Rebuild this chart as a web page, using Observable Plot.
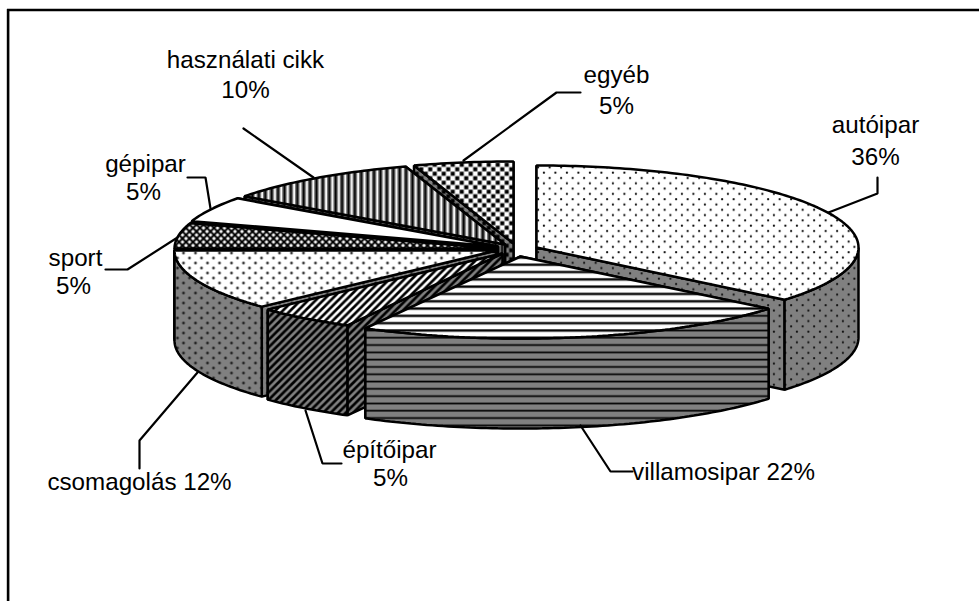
<!DOCTYPE html>
<html>
<head>
<meta charset="utf-8">
<style>html,body{margin:0;padding:0;background:#fff}svg{display:block}</style>
<script src="https://cdn.jsdelivr.net/npm/d3@7"></script>
<script src="https://cdn.jsdelivr.net/npm/@observablehq/plot@0.6"></script>
</head>
<body>
<div id="chart"></div>
<script>
const categories = ["autóipar","villamosipar","építőipar","csomagolás","sport","gépipar","használati cikk","egyéb"];
const shares = [36,22,5,12,5,5,10,5];
const patternNames = ["dotsA","hlines","diag","dotsB","cross","plain","vlines","checker"];
// exploded apex of each slice in picture coordinates
const apexX = [536,520,502,496,496,497.5,504.5,513];
const apexY = [247,256,253,250,248,246,244,243];
const radiusX = 322, radiusY = 82, depth = 90;

const labelTexts = ["autóipar","36%","villamosipar 22%","építőipar","5%","csomagolás 12%","sport","5%","gépipar","5%","használati cikk","10%","egyéb","5%"];
const labelX = [875,875,723,389,390,139,75,73,145,143,245,245,616,616];
const labelY = [125,157,472,450,478,482,258,286,164,192,60,90,75,106];

const leaderId = [0,0,0,1,1,1,2,2,2,3,3,3,4,4,4,5,5,5,6,6,7,7,7];
const leaderX = [828,877,877,580,610,632,305,322,341,197,139,139,177,127,105,210,205,187,313,243,463,556,580];
const leaderY = [212,193,177,425,471,471,410,463,463,372,440,468,237,269,269,208,177,177,177,128,160,92,92];

const tile = {
  dotsA: {w:11.5,h:10.6,draw:(p)=>{[[2.9,2.65],[8.65,7.95]].forEach(c=>p.append("circle").attr("cx",c[0]).attr("cy",c[1]).attr("r",1.1).attr("fill","#111"))}},
  dotsB: {w:12,h:10,draw:(p)=>{[[3,2.5],[9,7.5]].forEach(c=>p.append("circle").attr("cx",c[0]).attr("cy",c[1]).attr("r",1.35).attr("fill","#111"))}},
  hlines:{w:8,h:7.3,draw:(p)=>{p.append("rect").attr("y",0).attr("width",8).attr("height",3).attr("fill","#808080");p.append("rect").attr("y",0.6).attr("width",8).attr("height",1.7).attr("fill","#000")}},
  vlines:{w:6.4,h:8,draw:(p)=>{p.append("rect").attr("x",0).attr("width",4.8).attr("height",8).attr("fill","#808080");p.append("rect").attr("x",1.4).attr("width",1.9).attr("height",8).attr("fill","#000")}},
  diag:  {w:7.5,h:7.5,draw:(p)=>{p.append("path").attr("d","M-2,2 L2,-2 M-2,9.5 L9.5,-2 M5.5,9.5 L9.5,5.5").attr("stroke","#000").attr("stroke-width",2.7).attr("fill","none")}},
  cross: {w:7,h:7,draw:(p)=>{p.append("path").attr("d","M0,0 L7,7 M7,0 L0,7").attr("stroke","#000").attr("stroke-width",2).attr("fill","none")}},
  checker:{w:9,h:9,draw:(p)=>{[[0.2,0.2],[4.7,4.7]].forEach(c=>p.append("rect").attr("x",c[0]).attr("y",c[1]).attr("width",4.1).attr("height",4.1).attr("fill","#000"))}},
  plain: {w:8,h:8,draw:()=>{}}
};

function defsMark(){
  const svg = d3.create("svg:g");
  const defs = svg.append("defs");
  for (const name of Object.keys(tile)) for (const [suffix,bg] of [["T","#fff"],["W","#808080"]]) {
    const t = tile[name];
    const p = defs.append("pattern").attr("id",name+suffix).attr("patternUnits","userSpaceOnUse").attr("width",t.w).attr("height",t.h);
    p.append("rect").attr("width",t.w).attr("height",t.h).attr("fill",bg);
    t.draw(p);
  }
  return svg.node();
}

const toRad = d => d*Math.PI/180;
function rim(i,a,dz=0){ return {x:apexX[i]+radiusX*Math.sin(toRad(a)), y:apexY[i]-radiusY*Math.cos(toRad(a))+dz}; }
function arc(i,a0,a1,dz=0){
  const pts=[]; const n=Math.max(2,Math.ceil(Math.abs(a1-a0)));
  for(let k=0;k<=n;k++) pts.push(rim(i,a0+(a1-a0)*k/n,dz));
  return pts;
}
const polyStyle = (fill)=>({x:"x",y:"y",fill,stroke:"#000",strokeWidth:2.5,curve:"linear-closed",strokeLinejoin:"miter"});
const poly = (pts,fill)=>Plot.line(pts,polyStyle(fill));

const total = d3.sum(shares);
const starts = d3.cumsum([0,...shares]).map(v=>v/total*360);
const drawOrder = [7,0,6,5,4,3,2,1];
const sliceMarks = [];
for (const i of drawOrder){
  const a0=starts[i], a1=starts[i+1], nm=patternNames[i];
  const ax=apexX[i], ay=apexY[i];
  const wall=`url(#${nm}W)`, top=`url(#${nm}T)`;
  // cut walls, the one nearer the viewer last
  const cuts=[a0,a1].sort((p,q)=>rim(i,p).y-rim(i,q).y);
  for (const a of cuts){
    const r=rim(i,a), b=rim(i,a,depth);
    sliceMarks.push(poly([{x:ax,y:ay},r,b,{x:ax,y:ay+depth}],wall));
  }
  // outer wall on the front half
  const f0=Math.max(a0,90), f1=Math.min(a1,270);
  if (f1>f0) sliceMarks.push(poly([...arc(i,f0,f1),...arc(i,f1,f0,depth)],wall));
  // top
  sliceMarks.push(poly([{x:ax,y:ay},...arc(i,a0,a1)],top));
}

const leaders = leaderX.map((x,k)=>({x,y:leaderY[k],id:leaderId[k]}));
const labels = labelTexts.map((t,k)=>({t,x:labelX[k],y:labelY[k]}));

const chart = Plot.plot({
  width:979,height:601,margin:0,
  x:{domain:[0,979],range:[0,979],axis:null},
  y:{domain:[0,601],range:[0,601],axis:null},
  style:{background:"#fff"},
  marks:[
    defsMark,
    Plot.ruleY([9.5],{stroke:"#000",strokeWidth:2.6,x1:7,x2:979}),
    Plot.ruleX([7.6],{stroke:"#000",strokeWidth:2.6,y1:9,y2:601}),
    ...sliceMarks,
    Plot.line(leaders,{x:"x",y:"y",z:"id",stroke:"#000",strokeWidth:2.2,curve:"linear",strokeLinejoin:"miter"}),
    Plot.text(labels,{x:"x",y:"y",text:"t",fill:"#000",fontSize:24.2,fontFamily:"Liberation Sans",textAnchor:"middle",lineAnchor:"middle"})
  ]
});
document.getElementById("chart").append(chart);
</script>
</body>
</html>
